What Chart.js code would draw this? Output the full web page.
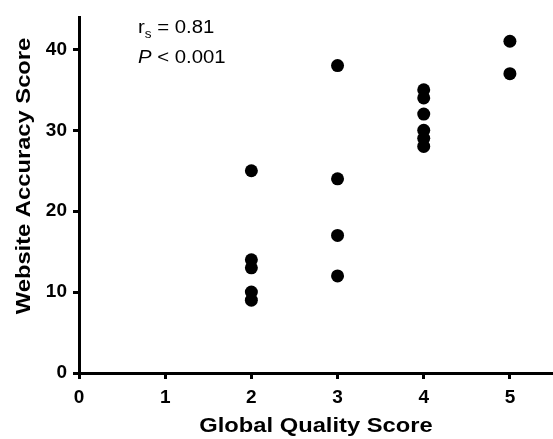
<!DOCTYPE html>
<html>
<head>
<meta charset="utf-8">
<script src="https://cdn.jsdelivr.net/npm/chart.js@4/dist/chart.umd.min.js"></script>
<style>
  html, body { margin: 0; padding: 0; background: #fff; }
  #wrap { width: 553px; height: 439px; }
</style>
</head>
<body>
<div id="wrap"><canvas id="c" width="553" height="439"></canvas></div>
<script>
// Global quality score vs. website accuracy score, one point per website
const qualityScores = [2, 2, 2, 2, 2, 3, 3, 3, 3, 4, 4, 4, 4, 4, 4, 5, 5];
const accuracyScores = [25, 14, 13, 10, 9, 38, 24, 17, 12, 35, 34, 32, 30, 29, 28, 41, 37];
const xTicks = [0, 1, 2, 3, 4, 5];
const yTicks = [0, 10, 20, 30, 40];
const xTitle = 'Global Quality Score';
const yTitle = 'Website Accuracy Score';
const rhoText = ' = 0.81';
const pText = ' < 0.001';

const points = qualityScores.map((q, i) => ({ x: q, y: accuracyScores[i] }));

const FONT = '"Liberation Sans", Arial, Helvetica, sans-serif';
const WIDE = 1.13; // horizontal widening of the lettering

// Draw text widened horizontally around its anchor
function wideText(ctx, text, x, y, font, align, rotate) {
  ctx.save();
  ctx.translate(x, y);
  if (rotate) ctx.rotate(rotate);
  ctx.scale(WIDE, 1);
  ctx.font = font;
  ctx.textAlign = align;
  ctx.textBaseline = 'alphabetic';
  ctx.fillText(text, 0, 0);
  const w = ctx.measureText(text).width * WIDE;
  ctx.restore();
  return w;
}

// Axis titles and the Spearman correlation note
const annotations = {
  id: 'annotations',
  afterDraw(chart) {
    const ctx = chart.ctx;
    const area = chart.chartArea;
    ctx.save();
    ctx.fillStyle = '#000';
    const titleFont = 'bold 21px ' + FONT;
    wideText(ctx, xTitle, (area.left + area.right) / 2, 432, titleFont, 'center', 0);
    wideText(ctx, yTitle, 30, 176, titleFont, 'center', -Math.PI / 2);

    const x = 138;
    let w = wideText(ctx, 'r', x, 33, '18px ' + FONT, 'left', 0);
    w += wideText(ctx, 's', x + w, 38, '12px ' + FONT, 'left', 0);
    wideText(ctx, rhoText, x + w, 33, '18px ' + FONT, 'left', 0);

    const pw = wideText(ctx, 'P', x, 63, 'italic 18px ' + FONT, 'left', 0);
    wideText(ctx, pText, x + pw, 63, '18px ' + FONT, 'left', 0);
    ctx.restore();
  }
};

new Chart(document.getElementById('c'), {
  type: 'scatter',
  data: {
    datasets: [{
      data: points,
      backgroundColor: '#000',
      borderColor: '#000',
      pointRadius: 6.5,
      pointHoverRadius: 6.5,
      borderWidth: 0
    }]
  },
  options: {
    responsive: false,
    animation: false,
    layout: { autoPadding: false, padding: { top: 17, right: 0, left: 0, bottom: 0 } },
    plugins: { legend: { display: false }, tooltip: { enabled: false } },
    scales: {
      x: {
        type: 'linear',
        min: 0,
        max: 5.5,
        afterBuildTicks: axis => { axis.ticks = xTicks.map(v => ({ value: v })); },
        afterFit: scale => { scale.height = 66; scale.paddingLeft = 0; scale.paddingRight = 0; },
        border: { display: true, color: '#000', width: 3 },
        grid: { drawOnChartArea: false, drawTicks: true, tickLength: 6, tickWidth: 3, color: '#000' },
        ticks: { color: '#000', font: { family: FONT, size: 19, weight: 'bold' }, padding: 7, maxRotation: 0 },
        title: { display: false }
      },
      y: {
        type: 'linear',
        min: 0,
        max: 44,
        afterBuildTicks: axis => { axis.ticks = yTicks.map(v => ({ value: v })); },
        afterFit: scale => { scale.width = 79; scale.paddingTop = 0; scale.paddingBottom = 0; },
        border: { display: true, color: '#000', width: 3 },
        grid: { drawOnChartArea: false, drawTicks: true, tickLength: 6, tickWidth: 3, color: '#000' },
        ticks: { color: '#000', font: { family: FONT, size: 19, weight: 'bold' }, padding: 6 },
        title: { display: false }
      }
    }
  },
  plugins: [annotations]
});
</script>
</body>
</html>
